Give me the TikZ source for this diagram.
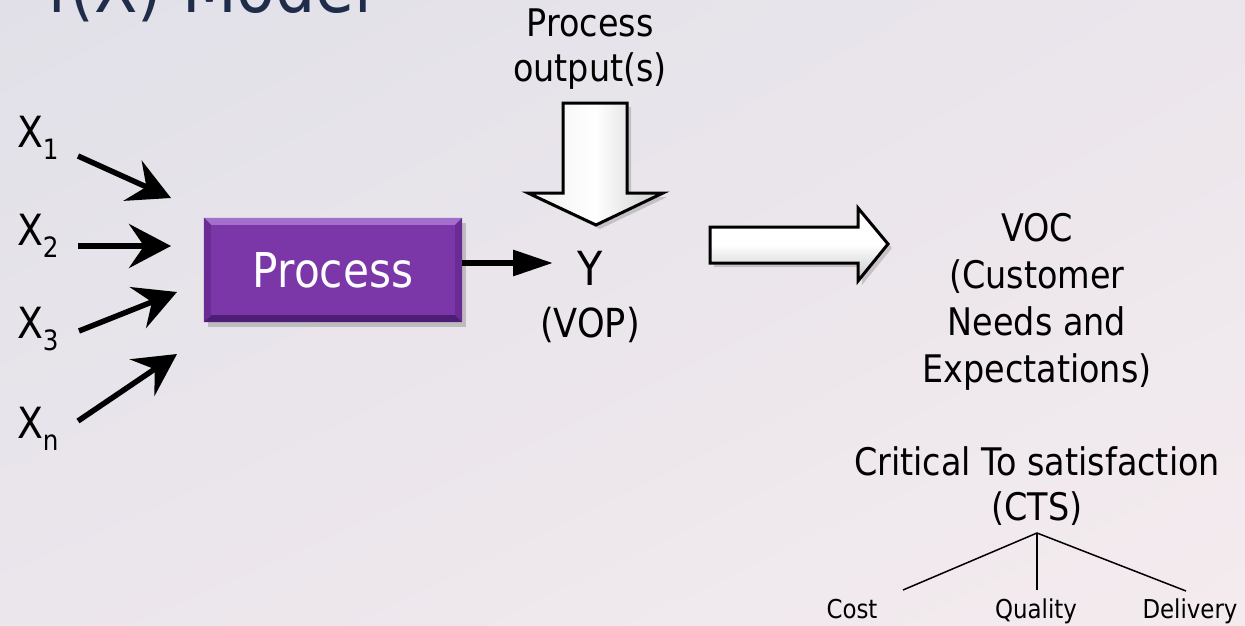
\documentclass[tikz,border=0pt]{standalone}
\usepackage{fontspec}
\setmainfont{DejaVu Sans}[FakeStretch=0.88]
\usetikzlibrary{arrows.meta,shadows,shadings,calc}
\definecolor{bgA}{HTML}{E1E0E8}
\definecolor{bgB}{HTML}{F4EBEE}
\definecolor{bgM}{HTML}{EBE6EC}
\definecolor{titlec}{HTML}{1F2D4B}
\definecolor{procc}{HTML}{7B36A8}
\definecolor{procl}{HTML}{A36FCC}
\definecolor{procd}{HTML}{4E1E74}
\definecolor{procs}{HTML}{6A2B95}
\newcommand\fsz[1]{\fontsize{#1}{#1}\selectfont}
\newcommand\xsb[1]{\raisebox{-12pt}{\fsz{28}#1}}
\begin{document}
\begin{tikzpicture}[x=1pt,y=-1pt,
  lbl/.style={inner sep=0pt, outer sep=0pt, text=black},
  big/.style={lbl, font=\fontsize{38}{47}\selectfont, align=center},
  xlab/.style={lbl, font=\fsz{43}, anchor=base west},
  small/.style={lbl, font=\fsz{26}, anchor=base},
  inarrow/.style={line width=5.5pt, -{Stealth[length=42pt,width=44pt,inset=15pt]}},
  outarrow/.style={line width=6pt, -{Triangle[length=40pt,width=25pt]}},
  blockarrow/.style={draw=black, line width=3pt, line join=miter,
     drop shadow={shadow xshift=4pt, shadow yshift=-4pt, opacity=0.35}},
  procbox/.style={fill=procc, minimum width=258pt, minimum height=104pt, inner sep=0pt,
     text=white, font=\fsz{48},
     drop shadow={shadow xshift=4pt, shadow yshift=-5pt, opacity=0.4}},
  tree/.style={line width=1.5pt, draw=black},
]
\useasboundingbox (0,0) rectangle (1245,626);
\clip (0,0) rectangle (1245,626);
\shade[upper left=bgA, lower right=bgB, upper right=bgM, lower left=bgM] (0,0) rectangle (1245,626);

% title (cut off at top, as in the reference)
\node[lbl, text=titlec, font=\fsz{72}, anchor=base west] (title) at (47,13) {f(X) Model};

% inputs
\node[xlab] (x1) at (17,147) {X\xsb{1}};
\node[xlab] (x2) at (17,245) {X\xsb{2}};
\node[xlab] (x3) at (17,338) {X\xsb{3}};
\node[xlab] (xn) at (17,438) {X\xsb{n}};
\coordinate (s1) at (78,156);  \coordinate (e1) at (171,198);
\coordinate (s2) at (78,246);  \coordinate (e2) at (171,246);
\coordinate (s3) at (79,331);  \coordinate (e3) at (177,292);
\coordinate (sn) at (78,421);  \coordinate (en) at (177,354);
\draw[inarrow] (s1) -- (e1);
\draw[inarrow] (s2) -- (e2);
\draw[inarrow] (s3) -- (e3);
\draw[inarrow] (sn) -- (en);

% process box
\node[procbox] (proc) at (333,270) {Process};
\fill[procl] (proc.north west) -- (proc.north east) -- ++(-7,7) -- ($(proc.north west)+(7,7)$) -- cycle;
\fill[procd] (proc.south west) -- (proc.south east) -- ++(-7,-7) -- ($(proc.south west)+(7,-7)$) -- cycle;
\fill[procs] (proc.north west) -- ($(proc.north west)+(7,7)$) -- ($(proc.south west)+(7,-7)$) -- (proc.south west) -- cycle;
\fill[procs] (proc.north east) -- ($(proc.north east)+(-7,7)$) -- ($(proc.south east)+(-7,-7)$) -- (proc.south east) -- cycle;

% output
\coordinate (ps) at (462,263);
\coordinate (pe) at (553,263);
\draw[outarrow] (ps) -- (pe);
\node[lbl, font=\fsz{47}] (y) at (590,268) {Y};
\node[lbl, font=\fsz{40}] (vop) at (590,325) {(VOP)};

% process outputs label and down arrow
\node[big, font=\fontsize{38}{45}\selectfont] (po) at (590,49) {Process\\output(s)};
\path[blockarrow, left color=gray!12, right color=gray!40, middle color=white]
  (563,103) -- (627,103) -- (627,193) -- (663,193) -- (596,225) -- (528,193) -- (563,193) -- cycle;

% right block arrow
\path[blockarrow, top color=white, bottom color=gray!45, middle color=white]
  (710,227) -- (858,227) -- (858,208) -- (888,244) -- (858,281) -- (858,263) -- (710,263) -- cycle;

% VOC
\node[big] (voc) at (1037,302) {VOC\\(Customer\\Needs and\\Expectations)};

% CTS
\node[big, font=\fontsize{38}{45}\selectfont] (cts) at (1037,486) {Critical To satisfaction\\(CTS)};
\coordinate (apex) at (1037,533);
\coordinate (lc) at (903,590);
\coordinate (mc) at (1037,590);
\coordinate (rc) at (1186,591);
\draw[tree] (lc) -- (apex) -- (rc);
\draw[tree] (apex) -- (mc);
\node[small] (cost) at (852,618) {Cost};
\node[small] (qual) at (1036,618) {Quality};
\node[small] (deliv) at (1190,618) {Delivery};
\end{tikzpicture}
\end{document}
